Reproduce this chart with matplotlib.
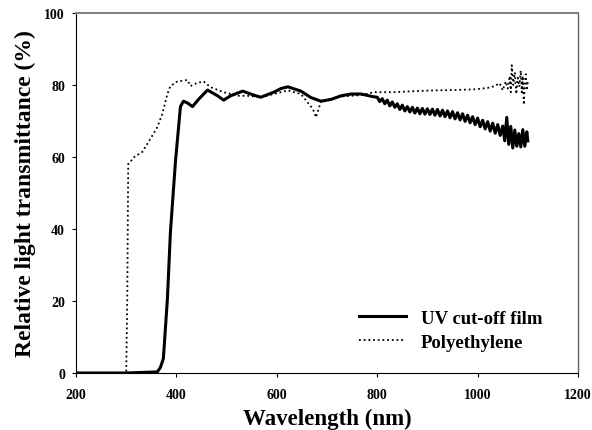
import numpy as np
import matplotlib.pyplot as plt

# UV cut-off film
uv_nm = [200, 300, 362, 368, 374, 382, 388, 398, 408, 414, 422, 432, 444, 462, 482, 494,
         508, 532, 554, 568, 594, 608, 622, 648, 668, 688, 708, 728, 748, 768, 790,
         800, 805, 810, 815, 820, 825, 830, 835, 840, 845, 850, 855, 860, 865, 870, 875,
         880, 885, 890, 895, 900, 905, 910, 915, 920, 925, 930, 935, 940, 945, 950, 955,
         960, 965, 970, 975, 980, 985, 990, 995, 1000, 1005, 1010, 1015, 1020, 1025, 1030,
         1035, 1040, 1045, 1050, 1054, 1058, 1062, 1066, 1070, 1074, 1078, 1082, 1086,
         1090, 1094, 1098, 1100]
uv_t = [0, 0, 0.3, 1.5, 4, 20.5, 39, 58.6, 74, 75.5, 75, 74, 76, 78.6, 77, 75.8,
        77, 78.3, 77.2, 76.6, 78, 79, 79.5, 78.3, 76.5, 75.5, 76, 77, 77.5, 77.5, 76.8,
        76.6, 75.4, 76.2, 74.8, 75.8, 74.2, 75.3, 73.8, 74.8, 73.2, 74.4, 72.8, 74.0, 72.5, 73.8, 72.2,
        73.6, 72.0, 73.5, 71.9, 73.4, 71.8, 73.3, 71.6, 73.2, 71.4, 73.0, 71.2, 72.8, 70.9, 72.6, 70.6,
        72.3, 70.3, 72.0, 69.9, 71.6, 69.5, 71.2, 69.0, 70.8, 68.4, 70.2, 67.8, 69.8, 67.2, 69.4,
        66.6, 69.0, 66.0, 68.6, 64.5, 71.0, 63.5, 68.5, 62.5, 67.5, 63.0, 66.5, 62.8,
        67.6, 63.0, 67.0, 64.5]

# Polyethylene
pe_nm = [200, 300, 302, 304, 316, 332, 348, 362, 372, 382, 388, 402, 412, 422, 428, 440,
         454, 468, 494, 522, 542, 568, 594, 622, 648, 668, 672, 678, 688, 728, 768, 794,
         834, 874, 914, 954, 994, 1008, 1020, 1034, 1044, 1050, 1056, 1060, 1064, 1066,
         1068, 1071, 1074, 1077, 1080, 1083, 1086, 1088, 1090, 1092, 1094, 1096, 1098, 1100]
pe_t = [0, 0, 20, 58, 60, 61.4, 65, 68.3, 72, 77.5, 79.7, 81, 81.2, 81.4, 79.7, 80.5,
        81, 79.4, 78, 77, 77, 76.6, 77.5, 78.5, 77.5, 74, 73.3, 71, 75.5, 76.8, 77.2, 78,
        78, 78.3, 78.5, 78.6, 78.8, 79, 79.2, 79.7, 80.5, 78.5, 81, 79, 82.5, 78,
        85.5, 80, 83.5, 77.5, 82, 79.5, 84, 78, 82.5, 74.5, 80.5, 83, 78.5, 81]

plt.rcParams['font.family'] = ['Liberation Serif', 'DejaVu Serif']
plt.rcParams['font.weight'] = 'bold'

fig = plt.figure(figsize=(5.92, 4.31), dpi=100)
ax = fig.add_axes([0.1284, 0.1323, 0.848, 0.8352])

ax.plot(uv_nm, uv_t, color='black', linewidth=2.2, label='UV cut-off film')
ax.plot(pe_nm, pe_t, color='black', linestyle=(0, (1, 1.6)), linewidth=1.3, label='Polyethylene')

ax.set_xlim(200, 1200)
ax.set_ylim(0, 100)
ax.set_xticks([200, 400, 600, 800, 1000, 1200])
ax.set_yticks([0, 20, 40, 60, 80, 100])
ax.tick_params(direction='out', length=3, labelsize=10, colors='black')
ax.tick_params(axis='x', pad=8)
ax.tick_params(axis='y', pad=5)
for lab in ax.get_xticklabels() + ax.get_yticklabels():
    lab.set_fontweight('bold')

ax.spines['top'].set_color('#808080')
ax.spines['right'].set_color('#606060')
ax.spines['top'].set_linewidth(1.5)
ax.spines['right'].set_linewidth(1.0)

ax.set_xlabel('Wavelength (nm)', fontsize=16.5, fontweight='bold', labelpad=5)
ax.set_ylabel('Relative light transmittance (%)', fontsize=17, fontweight='bold', labelpad=6)

ax.legend(loc='lower right', bbox_to_anchor=(0.962, 0.015), frameon=False,
          prop={'size': 13.5, 'weight': 'bold'}, handlelength=2.5, labelspacing=0.35)

fig.savefig('out.png', dpi=100)
